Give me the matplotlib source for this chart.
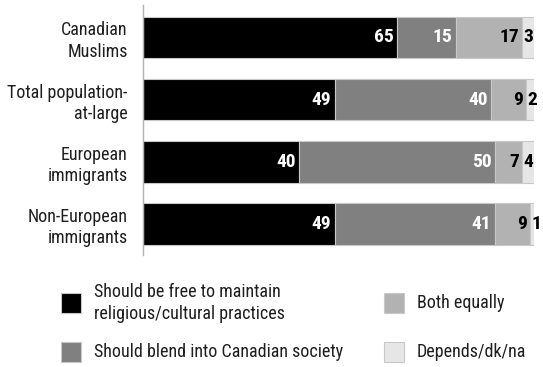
import matplotlib
matplotlib.use("Agg")
import matplotlib.pyplot as plt
from matplotlib.patches import Rectangle

plt.rcParams['font.family'] = ['Roboto Condensed', 'Barlow Condensed', 'DejaVu Sans']

categories = ["Canadian\nMuslims", "Total population-\nat-large",
              "European\nimmigrants", "Non-European\nimmigrants"]
free_to_maintain = [65, 49, 40, 49]
blend_in = [15, 40, 50, 41]
both_equally = [17, 9, 7, 9]
depends = [3, 2, 4, 1]

series = [free_to_maintain, blend_in, both_equally, depends]
series_names = ["Should be free to maintain\nreligious/cultural practices",
                "Should blend into Canadian society",
                "Both equally", "Depends/dk/na"]
colors = ["#000000", "#808080", "#b2b2b2", "#e6e6e6"]
text_colors = ["white", "white", "black", "black"]

fig = plt.figure(figsize=(5.43, 3.67), dpi=100)
ax = fig.add_axes([143 / 543, 112 / 367, 391 / 543, 250 / 367])

y = list(range(len(categories)))
left = [0] * len(categories)
for i, vals in enumerate(series):
    ax.barh(y, vals, left=left, height=0.67, color=colors[i],
            edgecolor="#c8c8c8", linewidth=0.8)
    for j, v in enumerate(vals):
        end = left[j] + v
        if i == len(series) - 1:
            ax.text(left[j] + 0.3, j, str(v), ha="left", va="center",
                    color=text_colors[i], fontsize=14, fontweight="bold")
        else:
            ax.text(end - 0.9, j, str(v), ha="right", va="center",
                    color=text_colors[i], fontsize=14, fontweight="bold")
    left = [a + b for a, b in zip(left, vals)]

ax.set_xlim(0, 100)
ax.set_ylim(3.5, -0.52)
ax.set_yticks(y)
ax.set_yticklabels(categories, fontsize=13, color="#1e1e1e", linespacing=1.25)
ax.tick_params(axis="y", length=0, pad=11)
ax.set_xticks([])
for s in ["top", "right", "bottom"]:
    ax.spines[s].set_visible(False)
ax.spines["left"].set_color("#b0b0b0")
ax.spines["left"].set_linewidth(1)

# legend drawn by hand so the rows line up across both columns
legend_pos = [(61, 303), (61, 352), (384, 303), (384, 352)]
sq = 20
for (px, py), name, c in zip(legend_pos, series_names, colors):
    fig.patches.append(Rectangle((px / 543, 1 - (py + sq / 2) / 367), sq / 543, sq / 367,
                                 transform=fig.transFigure, facecolor=c,
                                 edgecolor="#c8c8c8", linewidth=0.8))
    fig.text((px + sq + 13) / 543, 1 - py / 367, name, ha="left", va="center",
             fontsize=13, color="#1e1e1e", linespacing=1.35)

fig.savefig("out.png", dpi=100)
